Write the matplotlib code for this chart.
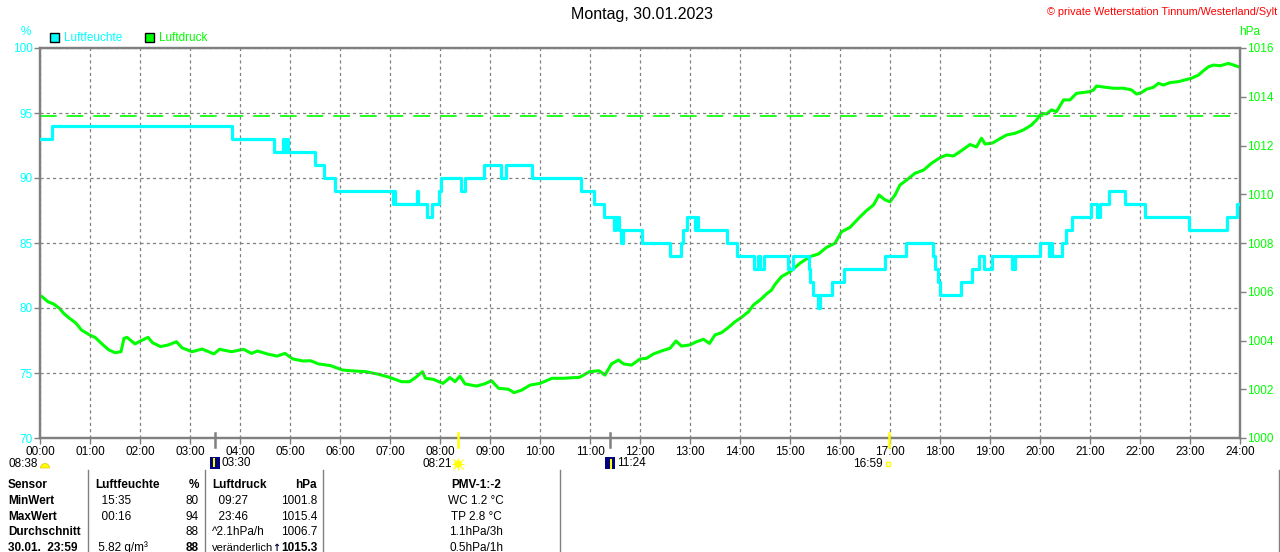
import matplotlib.pyplot as plt
from matplotlib.patches import Rectangle, Wedge, Circle
from matplotlib.transforms import blended_transform_factory

plt.rcParams['font.family'] = ['Liberation Sans', 'DejaVu Sans']

# Luftfeuchte (%), step changes: hour -> value
hum_time = [0.0, 0.23, 3.83, 4.67, 4.85, 4.88, 4.91, 4.95, 5.5, 5.68, 5.9, 7.05, 7.07, 7.1,
            7.53, 7.56, 7.73, 7.84, 7.97, 8.03, 8.42, 8.5, 8.88, 9.22, 9.32, 9.83, 10.82,
            11.07, 11.28, 11.48, 11.52, 11.58, 11.62, 11.66, 12.03, 12.6, 12.81, 12.86,
            12.93, 13.1, 13.13, 13.16, 13.73, 13.93, 14.27, 14.36, 14.39, 14.47, 14.95,
            15.05, 15.37, 15.4, 15.45, 15.56, 15.6, 15.83, 16.07, 16.9, 17.33, 17.85, 17.9,
            17.95, 18.0, 18.42, 18.65, 18.77, 18.87, 19.03, 19.43, 19.5, 20.0, 20.17, 20.2,
            20.23, 20.43, 20.52, 20.63, 21.01, 21.13, 21.2, 21.37, 21.7, 22.1, 22.97, 23.73,
            23.93, 24.0]
hum_val = [93, 94, 93, 92, 93, 92, 93, 92, 91, 90, 89, 88, 89, 88,
           89, 88, 87, 88, 89, 90, 89, 90, 91, 90, 91, 90, 89,
           88, 87, 86, 87, 86, 85, 86, 85, 84, 85, 86,
           87, 86, 87, 86, 85, 84, 83, 84, 83, 84, 83,
           84, 83, 82, 81, 80, 81, 82, 83, 84, 85, 84, 83,
           82, 81, 82, 83, 84, 83, 84, 83, 84, 85, 84, 85,
           84, 85, 86, 87, 88, 87, 88, 89, 88, 87, 86, 87,
           88, 88]

# Luftdruck (hPa)
pres_time = [0.04, 0.16, 0.27, 0.39, 0.47, 0.59, 0.71, 0.83, 0.99, 1.10, 1.26, 1.38, 1.50,
             1.62, 1.68, 1.74, 1.90, 2.01, 2.16, 2.25, 2.41, 2.57, 2.73, 2.84, 3.04, 3.24,
             3.48, 3.59, 3.83, 4.07, 4.23, 4.35, 4.54, 4.74, 4.90, 5.06, 5.26, 5.41, 5.57,
             5.81, 6.05, 6.28, 6.52, 6.76, 6.99, 7.23, 7.39, 7.51, 7.65, 7.71, 7.86, 8.06,
             8.20, 8.30, 8.40, 8.50, 8.73, 8.89, 9.03, 9.17, 9.37, 9.48, 9.64, 9.80, 10.0,
             10.24, 10.47, 10.79, 10.99, 11.18, 11.3, 11.43, 11.57, 11.67, 11.83, 12.0,
             12.13, 12.27, 12.43, 12.6, 12.72, 12.83, 13.0, 13.13, 13.27, 13.39, 13.5, 13.63,
             13.77, 13.9, 14.03, 14.17, 14.27, 14.4, 14.53, 14.63, 14.7, 14.83, 15.0, 15.2,
             15.4, 15.57, 15.73, 15.9, 16.03, 16.2, 16.37, 16.53, 16.67, 16.78, 16.9, 17.0,
             17.1, 17.2, 17.33, 17.5, 17.67, 17.83, 18.0, 18.13, 18.27, 18.43, 18.6, 18.73,
             18.83, 18.9, 19.05, 19.2, 19.33, 19.5, 19.67, 19.83, 19.93, 20.03, 20.13, 20.23,
             20.33, 20.47, 20.6, 20.73, 21.0, 21.07, 21.13, 21.3, 21.47, 21.67, 21.83, 21.93,
             22.03, 22.13, 22.27, 22.37, 22.47, 22.6, 22.77, 22.9, 23.03, 23.17, 23.27, 23.37,
             23.47, 23.6, 23.77, 23.87, 23.97]
pres_val = [1005.8, 1005.59, 1005.5, 1005.32, 1005.12, 1004.91, 1004.73, 1004.43, 1004.23,
            1004.13, 1003.82, 1003.61, 1003.5, 1003.54, 1004.09, 1004.13, 1003.86, 1003.98,
            1004.13, 1003.91, 1003.75, 1003.82, 1003.95, 1003.7, 1003.54, 1003.65, 1003.45,
            1003.64, 1003.54, 1003.64, 1003.47, 1003.57, 1003.45, 1003.36, 1003.47, 1003.24,
            1003.16, 1003.17, 1003.04, 1002.97, 1002.79, 1002.75, 1002.72, 1002.62, 1002.49,
            1002.31, 1002.31, 1002.48, 1002.72, 1002.45, 1002.41, 1002.24, 1002.48, 1002.31,
            1002.54, 1002.22, 1002.13, 1002.22, 1002.35, 1002.04, 1002.0, 1001.86, 1001.97,
            1002.17, 1002.24, 1002.45, 1002.45, 1002.49, 1002.72, 1002.76, 1002.58, 1003.04,
            1003.2, 1003.04, 1002.99, 1003.24, 1003.27, 1003.45, 1003.57, 1003.68, 1003.98,
            1003.77, 1003.82, 1003.95, 1004.05, 1003.88, 1004.23, 1004.32, 1004.54, 1004.77,
            1004.95, 1005.18, 1005.46, 1005.66, 1005.91, 1006.07, 1006.3, 1006.62, 1006.82,
            1007.17, 1007.44, 1007.55, 1007.82, 1007.99, 1008.46, 1008.64, 1009.01, 1009.33,
            1009.56, 1009.97, 1009.77, 1009.69, 1009.97, 1010.38, 1010.58, 1010.86, 1010.99,
            1011.27, 1011.5, 1011.61, 1011.57, 1011.79, 1012.04, 1011.94, 1012.3, 1012.06,
            1012.1, 1012.28, 1012.43, 1012.5, 1012.64, 1012.84, 1013.05, 1013.32, 1013.29,
            1013.46, 1013.39, 1013.87, 1013.87, 1014.14, 1014.21, 1014.28, 1014.44, 1014.39,
            1014.35, 1014.35, 1014.28, 1014.11, 1014.17, 1014.31, 1014.39, 1014.55, 1014.48,
            1014.58, 1014.62, 1014.69, 1014.76, 1014.89, 1015.07, 1015.23, 1015.3, 1015.27,
            1015.37, 1015.3, 1015.23]
pres_mark = 1013.2

hour_labels = ["%02d:00" % h for h in range(25)]
hum_ticks = [70, 75, 80, 85, 90, 95, 100]
pres_ticks = [1000, 1002, 1004, 1006, 1008, 1010, 1012, 1014, 1016]

# sun / moon events (hours)
moon_times = [3.5, 11.4]
sun_times = [8.35, 16.983]

table_rows = [
    ["Sensor", "Luftfeuchte", "%", "Luftdruck", "hPa", "PMV-1:-2"],
    ["MinWert", "  15:35", "80", "  09:27", "1001.8", "WC 1.2 °C"],
    ["MaxWert", "  00:16", "94", "  23:46", "1015.4", "TP 2.8 °C"],
    ["Durchschnitt", "", "88", "^2.1hPa/h", "1006.7", "1.1hPa/3h"],
    ["30.01.  23:59", " 5.82 g/m³", "88", "veränderlich", "1015.3", "0.5hPa/1h"],
]

CYAN = "#00ffff"
GREEN = "#00ff00"
GRAY = "#808080"
FS = 8.5

fig = plt.figure(figsize=(12.8, 5.52), dpi=100)
ax = fig.add_axes([40 / 1280, 1 - 438 / 552, 1200 / 1280, 390 / 552])
ax2 = ax.twinx()

ax.step(hum_time, hum_val, where="post", color=CYAN, lw=2.3, zorder=3)
ax2.plot(pres_time, pres_val, color=GREEN, lw=2.2, zorder=3)
ax2.axhline(pres_mark, color=GREEN, lw=1.2, dashes=(10, 6), zorder=2)

ax.set_xlim(0, 24)
ax.set_ylim(70, 100)
ax2.set_ylim(1000, 1016)
ax.set_xticks(range(25))
ax.set_xticklabels(hour_labels, fontsize=FS)
ax.set_yticks(hum_ticks)
ax.set_yticklabels([str(v) for v in hum_ticks], fontsize=FS, color=CYAN)
ax2.set_yticks(pres_ticks)
ax2.set_yticklabels([str(v) for v in pres_ticks], fontsize=FS, color=GREEN)
ax.tick_params(axis="x", length=4, color=GRAY, width=1, pad=2)
ax.tick_params(axis="y", length=4, color=GRAY, width=1, pad=1)
ax2.tick_params(axis="y", length=4, color=GRAY, width=1, pad=1)
ax.grid(True, color=GRAY, lw=0.9, dashes=(2.5, 2.5))
for a in (ax, ax2):
    for s in a.spines.values():
        s.set_color(GRAY)
        s.set_linewidth(1.6)
ax.set_zorder(ax2.get_zorder() + 1)
ax.patch.set_visible(False)
ax2.patch.set_visible(True)
ax2.patch.set_facecolor("white")

# event marks on the time axis
tr = blended_transform_factory(ax.transData, ax.transAxes)
for t in moon_times:
    ax.plot([t, t], [0.013, -0.023], color=GRAY, lw=1.8, transform=tr, clip_on=False, zorder=5)
for t in sun_times:
    ax.plot([t, t], [0.013, -0.023], color="#ffff00", lw=1.8, transform=tr, clip_on=False, zorder=5)

# overlay in pixel coordinates for titles, legend and table
ov = fig.add_axes([0, 0, 1, 1])
ov.set_xlim(0, 1280)
ov.set_ylim(552, 0)
ov.axis("off")

ov.text(642, 15, "Montag, 30.01.2023", ha="center", va="center", fontsize=11.5)
ov.text(1277, 12, "© private Wetterstation Tinnum/Westerland/Sylt", ha="right", va="center",
        fontsize=7.8, color="red")
ov.text(26, 32, "%", ha="center", va="center", fontsize=FS, color=CYAN)
ov.text(1250, 32, "hPa", ha="center", va="center", fontsize=FS, color=GREEN)

ov.add_patch(Rectangle((50, 33), 9, 9, facecolor=CYAN, edgecolor="black", lw=1))
ov.text(64, 38, "Luftfeuchte", va="center", fontsize=FS, color=CYAN)
ov.add_patch(Rectangle((145, 33), 9, 9, facecolor=GREEN, edgecolor="black", lw=1))
ov.text(159, 38, "Luftdruck", va="center", fontsize=FS, color=GREEN)

# sun / moon labels
ov.text(38, 464, "08:38", ha="right", va="center", fontsize=FS)
ov.add_patch(Wedge((45, 468), 4.5, 180, 360, facecolor="#ffff00", edgecolor="#e0c000", lw=0.5))
ov.add_patch(Rectangle((210, 457), 10, 12, facecolor="#000080", edgecolor="none"))
ov.plot([214, 214], [459, 466], color="#ffff00", lw=1.5)
ov.text(222, 463, "03:30", va="center", fontsize=FS)
ov.text(452, 464, "08:21", ha="right", va="center", fontsize=FS)
ov.add_patch(Circle((458, 464), 3, facecolor="#ffff00", edgecolor="#ffff00"))
ov.plot([458], [464], marker="+", ms=9, color="#ffff00", mew=0.8)
ov.plot([458], [464], marker="x", ms=6.5, color="#ffff00", mew=0.8)
ov.add_patch(Rectangle((605, 457), 10, 12, facecolor="#000080", edgecolor="none"))
ov.plot([611, 611], [460, 468], color="#ffff00", lw=1.5)
ov.text(617, 463, "11:24", va="center", fontsize=FS)
ov.text(883, 464, "16:59", ha="right", va="center", fontsize=FS)
ov.add_patch(Rectangle((886, 462), 4, 4, facecolor="none", edgecolor="#ffff00", lw=1))

# table
for sx in [88, 205, 323, 560, 1279]:
    ov.plot([sx, sx], [470, 552], color=GRAY, lw=1)

row_y = [485, 501, 517, 532, 548]
for i, row in enumerate(table_rows):
    y = row_y[i]
    head = i == 0
    ov.text(8, y, row[0], va="center", fontsize=FS, fontweight="bold")
    ov.text(95, y, row[1], va="center", fontsize=FS, fontweight="bold" if head else "normal")
    ov.text(199, y, row[2], ha="right", va="center", fontsize=FS,
            fontweight="bold" if head or i == 4 else "normal")
    ov.text(212, y, row[3], va="center", fontsize=8 if i == 4 else FS,
            fontweight="bold" if head else "normal")
    ov.text(317, y, row[4], ha="right", va="center", fontsize=FS,
            fontweight="bold" if head or i == 4 else "normal")
    ov.text(476, y, row[5], ha="center", va="center", fontsize=FS,
            fontweight="bold" if head else "normal")

# trend arrow after "veränderlich"
ov.text(276.5, 548, "↑", ha="center", va="center", fontsize=7, fontweight="bold",
        color="#000040", family=["DejaVu Sans"])

fig.savefig("out.png", dpi=100)
